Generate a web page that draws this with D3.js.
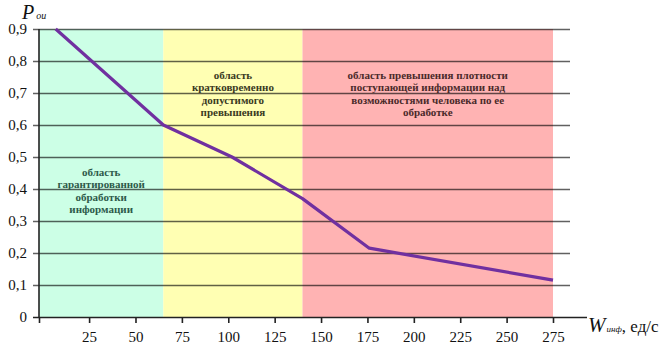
<!DOCTYPE html>
<html>
<head>
<meta charset="utf-8">
<script src="https://cdn.jsdelivr.net/npm/d3@7"></script>
<style>
html,body{margin:0;padding:0;background:#fff;}
svg{display:block;}
svg text{font-family:"Liberation Serif","DejaVu Serif",serif;}
</style>
</head>
<body>
<svg id="chart" width="668" height="344"></svg>
<script>
// ---- data ----
const xTickValues = [25, 50, 75, 100, 125, 150, 175, 200, 225, 250, 275];
const yTickValues = [0, 0.1, 0.2, 0.3, 0.4, 0.5, 0.6, 0.7, 0.8, 0.9];
const yTickLabels = ["0", "0,1", "0,2", "0,3", "0,4", "0,5", "0,6", "0,7", "0,8", "0,9"];
const lineX = [7, 65, 102, 140, 176, 275];
const lineY = [0.9, 0.6, 0.5, 0.37, 0.215, 0.115];
const zoneStart = [-2, 65, 140];
const zoneEnd = [65, 140, 275];
const zoneLabels = [
  ["область", "гарантированной", "обработки", "информации"],
  ["область", "кратковременно", "допустимого", "превышения"],
  ["область превышения плотности", "поступающей информации над", "возможностями человека по ее", "обработке"]
];
const zoneColors = ["#ccffe6", "#ffffb3", "#ffb3b3"];
const zoneTextColors = ["#2e5a4a", "#3a3a22", "#4a2a2a"];

// ---- layout ----
const svg = d3.select("#chart");
const plotLeft = 39, plotBottom = 317, plotTop = 29;
const x = d3.scaleLinear().domain([-2, 275]).range([plotLeft, 553]);
const y = d3.scaleLinear().domain([0, 0.9]).range([plotBottom, plotTop]);
const gridRight = 570, axisRight = 587;
const serif = '"Liberation Serif", "DejaVu Serif", serif';

// zones
svg.append("g").selectAll("rect").data(zoneStart).join("rect")
  .attr("x", (d) => x(d))
  .attr("y", plotTop)
  .attr("width", (d, i) => x(zoneEnd[i]) - x(d))
  .attr("height", plotBottom - plotTop)
  .attr("fill", (d, i) => zoneColors[i]);

// gridlines
svg.append("g").selectAll("line").data(yTickValues.filter(v => v > 0)).join("line")
  .attr("x1", plotLeft - 6).attr("x2", gridRight)
  .attr("y1", d => Math.round(y(d)) + 0.5).attr("y2", d => Math.round(y(d)) + 0.5)
  .attr("stroke", "#000").attr("stroke-opacity", 0.62).attr("stroke-width", 1.6);

// y axis labels
svg.append("g").selectAll("text").data(yTickValues).join("text")
  .attr("x", 27).attr("y", d => y(d) + 5)
  .attr("text-anchor", "end")
  .style("font-family", serif).style("font-size", "15px").attr("fill", "#111")
  .text((d, i) => yTickLabels[i]);

// y axis line
svg.append("line").attr("x1", plotLeft).attr("x2", plotLeft).attr("y1", plotTop).attr("y2", plotBottom)
  .attr("stroke", "#222").attr("stroke-width", 1.6);

// x axis
const xAxis = d3.axisBottom(x).tickValues([-2].concat(xTickValues)).tickSize(6)
  .tickFormat(d => d < 0 ? "" : d);
const gx = svg.append("g").attr("transform", `translate(0,${plotBottom})`).call(xAxis);
gx.attr("font-family", null).attr("font-size", null);
gx.select(".domain").remove();
gx.selectAll(".tick line").attr("stroke", "#222").attr("stroke-width", 1.6);
gx.selectAll(".tick text").style("font-family", serif).style("font-size", "15px")
  .attr("fill", "#111").attr("dy", null).attr("y", 25);
svg.append("line").attr("x1", plotLeft - 6).attr("x2", axisRight)
  .attr("y1", plotBottom + 0.5).attr("y2", plotBottom + 0.5)
  .attr("stroke", "#222").attr("stroke-width", 1.6);

// zone labels
const labelBaselines = [176, 79, 79];
zoneLabels.forEach((lines, i) => {
  const cx = (x(zoneStart[i]) + x(zoneEnd[i])) / 2;
  const t = svg.append("text")
    .style("font-family", serif).style("font-size", "11px").style("font-weight", "bold")
    .attr("fill", zoneTextColors[i]).attr("text-anchor", "middle");
  lines.forEach((s, j) => {
    t.append("tspan").attr("x", cx).attr("y", labelBaselines[i] + j * 12.3).text(s);
  });
});

// line
const pts = lineX.map((v, i) => [v, lineY[i]]);
svg.append("path").datum(pts)
  .attr("d", d3.line().x(d => x(d[0])).y(d => y(d[1])))
  .attr("fill", "none").attr("stroke", "#7030a0").attr("stroke-width", 3.2)
  .attr("stroke-linejoin", "round");

// axis titles
const yt = svg.append("text").attr("x", 22).attr("y", 19)
  .style("font-family", serif).style("font-style", "italic").attr("fill", "#111");
yt.append("tspan").style("font-size", "20px").text("P");
yt.append("tspan").style("font-size", "10px").attr("dx", 2).text("ои");

const xt = svg.append("text").attr("x", 588).attr("y", 332)
  .style("font-family", serif).attr("fill", "#111");
xt.append("tspan").style("font-size", "21px").style("font-style", "italic").text("W");
xt.append("tspan").style("font-size", "9px").style("font-style", "italic").attr("dx", 1).text("инф");
xt.append("tspan").style("font-size", "17px").text(", ед/с");
</script>
</body>
</html>
